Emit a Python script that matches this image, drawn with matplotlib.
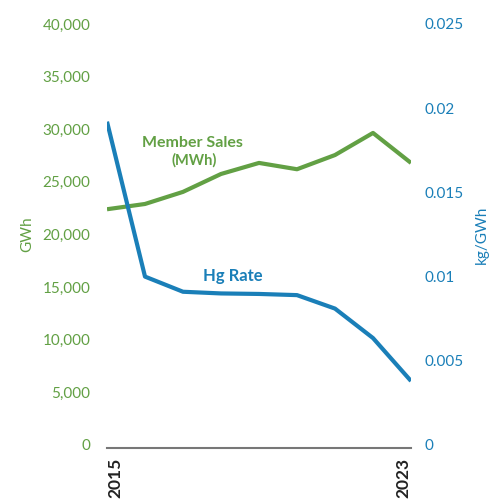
import matplotlib

matplotlib.use("Agg")

import matplotlib.pyplot as plt

years = [2015, 2016, 2017, 2018, 2019, 2020, 2021, 2022, 2023]
member_sales = [22400, 22900, 24050, 25750, 26800, 26200, 27550, 29650, 26800]
hg_rate = [0.0192, 0.0100, 0.0091, 0.0090, 0.00897, 0.0089, 0.0081, 0.00635, 0.0038]

left_ticks = [0, 5000, 10000, 15000, 20000, 25000, 30000, 35000, 40000]
right_ticks = [0, 0.005, 0.01, 0.015, 0.02, 0.025]
right_labels = ["0", "0.005", "0.01", "0.015", "0.02", "0.025"]
end_years = [years[0], years[-1]]

GREEN = "#62a044"
BLUE = "#1a7fb8"

plt.rcParams["font.family"] = ["Lato", "DejaVu Sans"]

fig = plt.figure(figsize=(4.93, 5.04), dpi=100)
ax = fig.add_axes([107 / 493, 1 - 445 / 504, (411 - 107) / 493, (445 - 24) / 504])
ax2 = ax.twinx()

ax.plot(years, member_sales, color=GREEN, linewidth=3, solid_capstyle="butt")
ax2.plot(years, hg_rate, color=BLUE, linewidth=3, solid_capstyle="butt")

ax.set_xlim(years[0], years[-1])
ax.set_ylim(0, 40000)
ax2.set_ylim(0, 0.025)

ax.set_yticks(left_ticks)
ax.set_yticklabels([f"{v:,}" for v in left_ticks])
ax2.set_yticks(right_ticks)
ax2.set_yticklabels(right_labels)

# year labels drawn by hand so the bold / rotation sticks with the twin axis
ax.set_xticks([])
ax2.set_xticks([])
xform = ax.get_xaxis_transform()
for yr, align in zip(end_years, ["left", "right"]):
    ax.text(yr, -0.03, str(yr), transform=xform, rotation=90, ha=align, va="top",
            fontsize=12.5, fontweight="bold", color="#222222")

ax.tick_params(axis="y", length=0, pad=12, labelsize=11, labelcolor=GREEN)
ax2.tick_params(axis="y", length=0, pad=10, labelsize=11, labelcolor=BLUE)

for a in (ax, ax2):
    for side in ("top", "left", "right", "bottom"):
        a.spines[side].set_visible(False)
ax.spines["bottom"].set_visible(True)
ax.spines["bottom"].set_color("#777777")
ax.spines["bottom"].set_linewidth(1.5)
ax.spines["bottom"].set_position(("outward", 2))

ax.set_ylabel("GWh", color=GREEN, fontsize=11, labelpad=6)
ax2.set_ylabel("kg/GWh", color=BLUE, fontsize=11, rotation=90, labelpad=8)

ax.text(2017.25, 28650, "Member Sales", color=GREEN, fontsize=11.5, fontweight="bold",
        ha="center", va="center")
ax.text(2017.3, 27050, "(MWh)", color=GREEN, fontsize=10.5, fontweight="bold",
        ha="center", va="center")
ax2.text(2018.3, 0.01005, "Hg Rate", color=BLUE, fontsize=12, fontweight="bold",
         ha="center", va="center")

fig.savefig("out.png", dpi=100)
